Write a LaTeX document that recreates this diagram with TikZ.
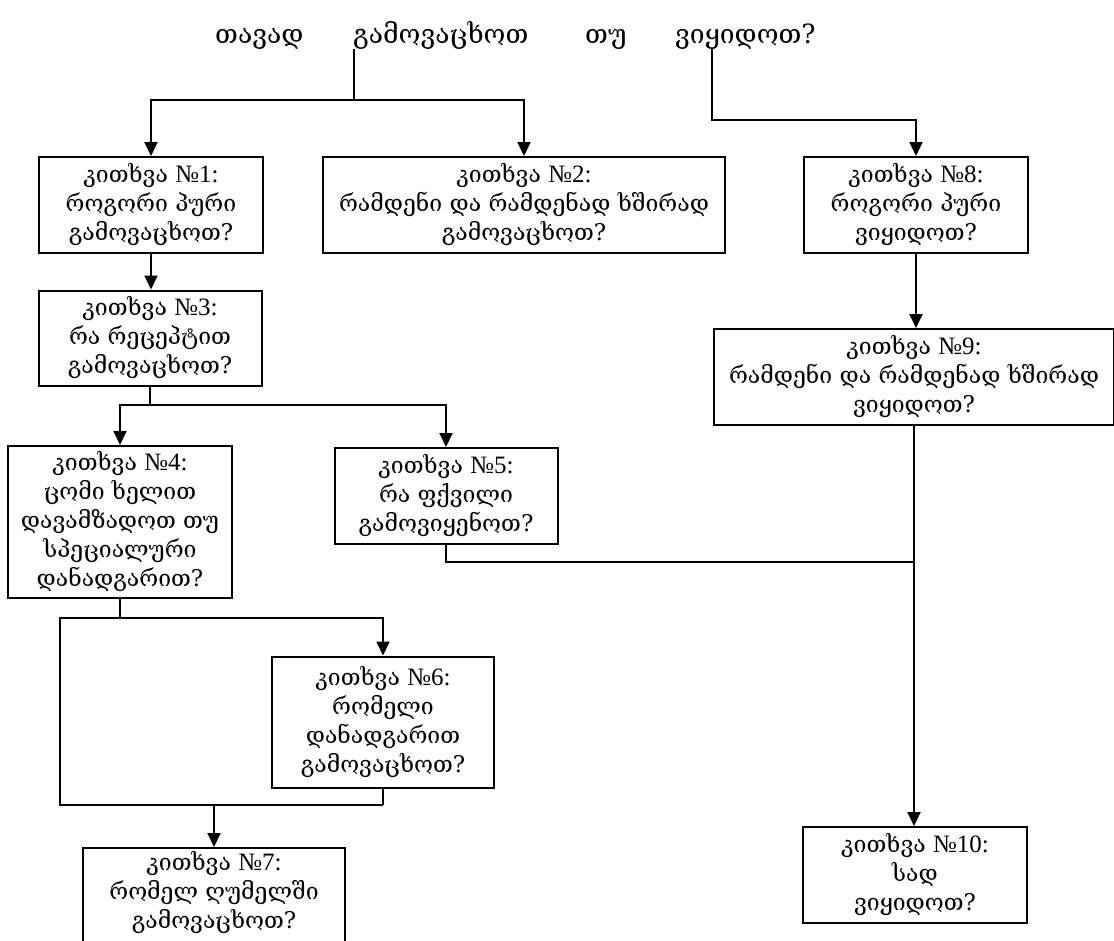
\documentclass[tikz,border=0pt]{standalone}
\usepackage{fontspec}
\setmainfont{DejaVu Serif}
\newfontfamily\latfont{Liberation Serif}
\newcommand{\lat}{\latfont\fontsize{25}{29}\selectfont}
\usetikzlibrary{arrows.meta}
\tikzset{
  box/.style={draw, line width=2pt, align=center, inner sep=0pt, font=\fontsize{23}{29}\selectfont},
  ttl/.style={inner sep=0pt, anchor=base west, font=\fontsize{26.5}{30}\selectfont},
  conn/.style={line width=1.9pt},
  arr/.style={conn, -{Triangle[length=14pt,width=13pt]}},
}
\begin{document}
\begin{tikzpicture}[x=1pt,y=-1pt]
\useasboundingbox (0,0) rectangle (1114,940);
\clip (0,0) rectangle (1114,940);
% title
\node[ttl] (t1) at (215,43) {თავად};
\node[ttl] (t2) at (353,43) {გამოვაცხოთ};
\node[ttl] (t3) at (585,43) {თუ};
\node[ttl] (t4) at (675,43) {ვიყიდოთ?};
% boxes
\node[box, minimum width=224pt, minimum height=96pt] (b1) at (151,205) {კითხვა {\lat №1:}\\როგორი პური\\გამოვაცხოთ?};
\node[box, minimum width=402pt, minimum height=96pt] (b2) at (524,205) {კითხვა {\lat №2:}\\რამდენი და რამდენად ხშირად\\გამოვაცხოთ?};
\node[box, minimum width=224pt, minimum height=96pt] (b8) at (916,205) {კითხვა {\lat №8:}\\როგორი პური\\ვიყიდოთ?};
\node[box, minimum width=223pt, minimum height=95pt] (b3) at (150,338) {კითხვა {\lat №3:}\\რა რეცეპტით\\გამოვაცხოთ?};
\node[box, minimum width=400pt, minimum height=96pt] (b9) at (914,377) {კითხვა {\lat №9:}\\რამდენი და რამდენად ხშირად\\ვიყიდოთ?};
\node[box, minimum width=224pt, minimum height=152pt] (b4) at (120,522) {კითხვა {\lat №4:}\\ცომი ხელით\\დავამზადოთ თუ\\სპეციალური\\დანადგარით?};
\node[box, minimum width=223pt, minimum height=96pt] (b5) at (446,496) {კითხვა {\lat №5:}\\რა ფქვილი\\გამოვიყენოთ?};
\node[box, minimum width=222pt, minimum height=131pt] (b6) at (383,722) {კითხვა {\lat №6:}\\რომელი\\დანადგარით\\გამოვაცხოთ?};
\node[box, minimum width=262pt, minimum height=130pt] (b7) at (214,913) {კითხვა {\lat №7:}\\რომელ ღუმელში\\გამოვაცხოთ?\rule[-46pt]{0pt}{1pt}};
\node[box, minimum width=224pt, minimum height=96pt] (b10) at (915,875) {კითხვა {\lat №10:}\\სად\\ვიყიდოთ?};
% junction coordinates
\coordinate (tj) at (354,100);
\coordinate (tr) at (712,120);
\coordinate (j3) at (150,405);
\coordinate (j4) at (120,618);
\coordinate (jl) at (60,805);
\coordinate (j6) at (383,805);
\coordinate (j7) at (214,805);
\coordinate (j5) at (446,562);
% connectors
\draw[conn] (tj |- t2.south) -- (tj);
\draw[arr] (tj) -| (b1.north);
\draw[arr] (tj) -| (b2.north);
\draw[arr] (tr |- t4.south) -- (tr) -| (b8.north);
\draw[arr] (b1.south) -- (b1.south |- b3.north);
\draw[conn] (b3.south) -- (j3);
\draw[arr] (j3) -| (b4.north);
\draw[arr] (j3) -| (b5.north);
\draw[arr] (b8.south) -- (b8.south |- b9.north);
\draw[conn] (b4.south) -- (j4);
\draw[arr] (j4) -| (b6.north);
\draw[conn] (j4) -| (jl) -- (j6);
\draw[conn] (b6.south) -- (j6);
\draw[arr] (j7) -- (b7.north);
\draw[conn] (b5.south) -- (j5) -- (j5 -| b9.south);
\draw[arr] (b9.south) -- (b9.south |- b10.north);
\end{tikzpicture}
\end{document}
